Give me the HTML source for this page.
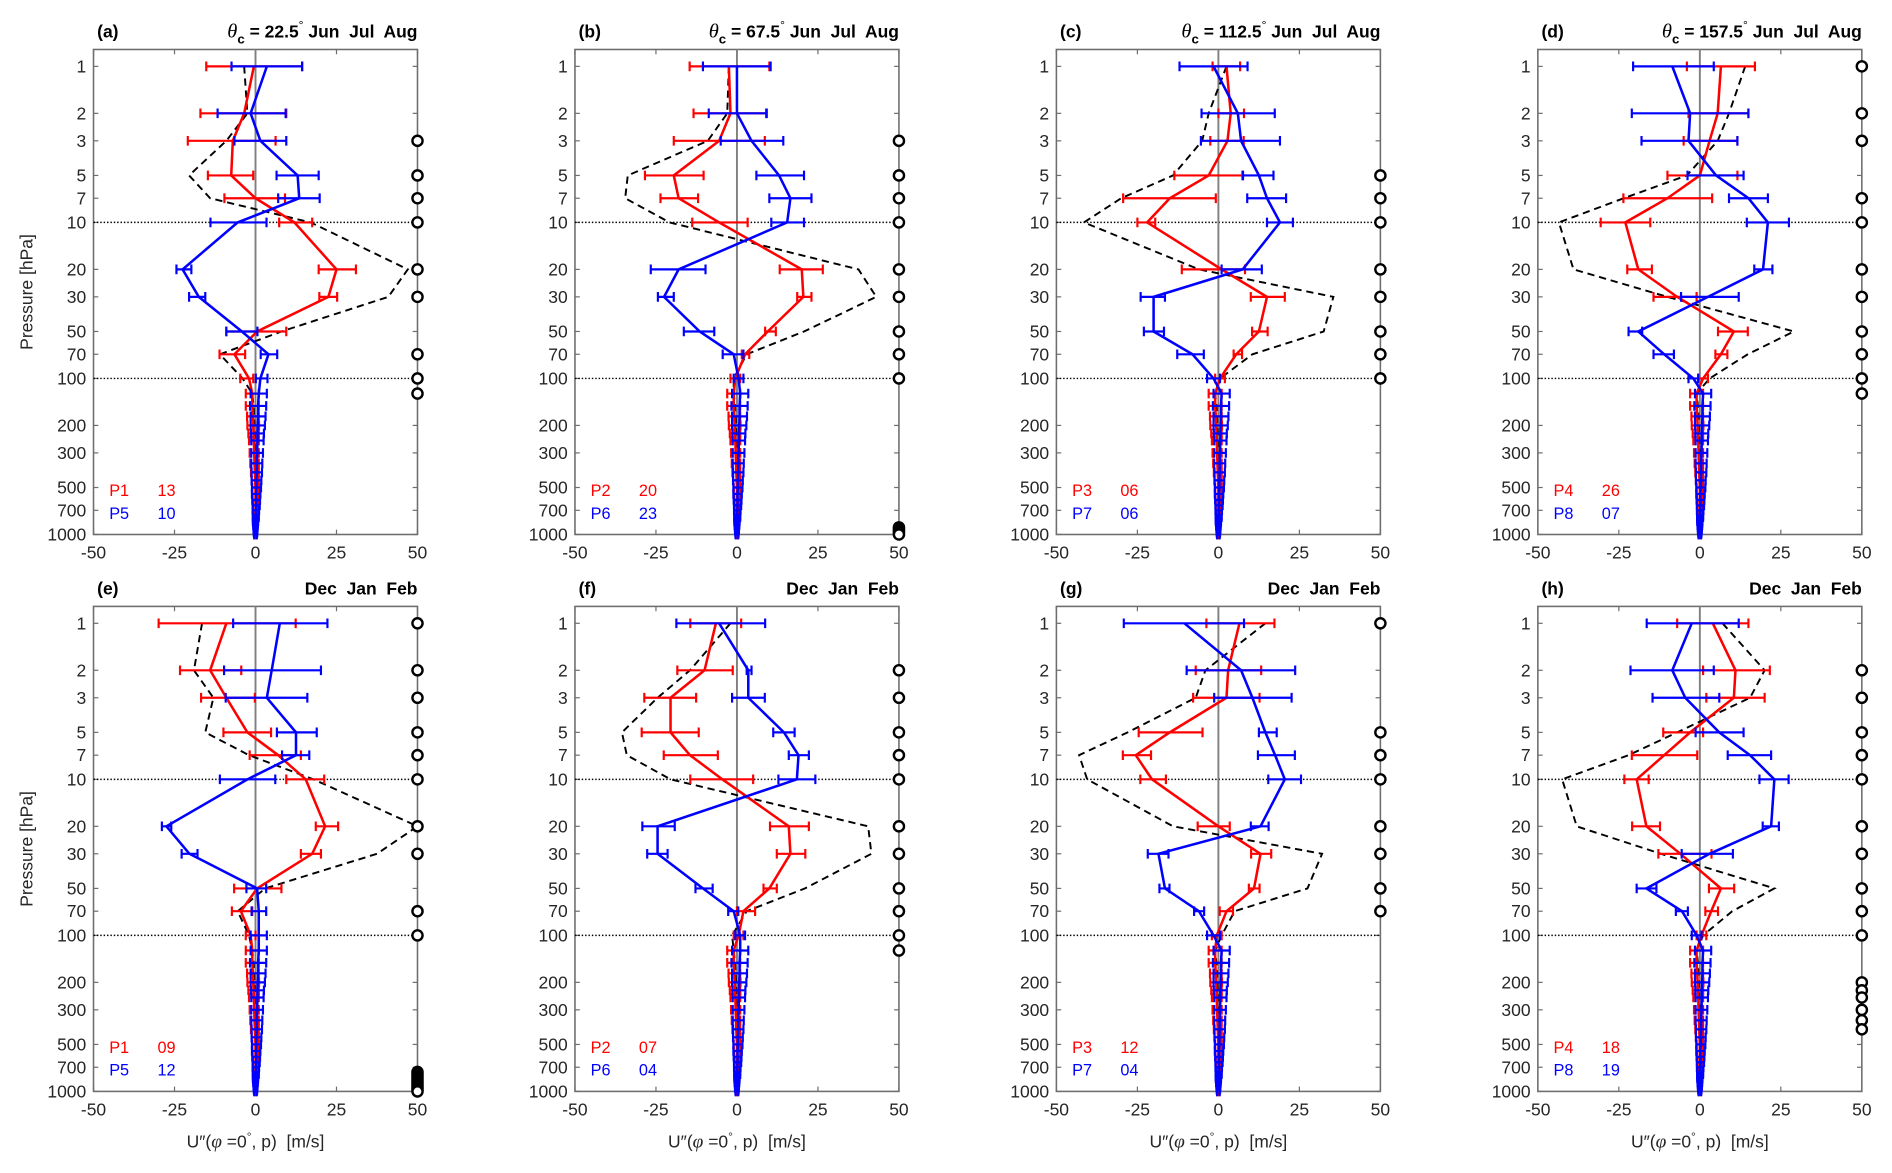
<!DOCTYPE html>
<html><head><meta charset="utf-8">
<style>
html,body{margin:0;padding:0;background:#fff;}
svg{display:block;}
text{font-family:"Liberation Sans",sans-serif;}
</style></head>
<body>
<svg id="fig" width="1892" height="1173" viewBox="0 0 1568 972" preserveAspectRatio="none" xmlns="http://www.w3.org/2000/svg"></svg>
<script>
// pressure levels
const upperLevels = [1,2,3,5,7,10,20,30,50,70,100];
const lowerLevels = [125,150,175,200,225,250,300,350,400,450,500,550,600,650,700,750,775,800,825,850,875,900,925,950,975,1000];
const yTickLabels = [1,2,3,5,7,10,20,30,50,70,100,200,300,500,700,1000];
const xTickLabels = [-50,-25,0,25,50];
// lower-level values (shared)
const lowRedMean = [-1,-1,-0.8,-0.7,-0.6,-0.5,-0.4,-0.3,-0.2,-0.1,0,0,0,0,0,0,0,0,0,0,0,0,0,0,0,0];
const lowRedErr = [2,2,1.8,1.8,1.6,1.5,1.4,1.3,1.2,1.1,1,1,0.9,0.8,0.8,0.7,0.7,0.6,0.6,0.5,0.5,0.5,0.4,0.4,0.4,0.3];
const lowBlueMean = [1,0.8,0.8,0.7,0.6,0.6,0.5,0.4,0.4,0.3,0.3,0.2,0.2,0.2,0.1,0.1,0.1,0,0,0,0,0,0,0,0,0];
const lowBlueErr = [2.5,2.5,2.3,2.2,2,1.9,1.8,1.7,1.6,1.5,1.4,1.3,1.2,1.1,1,0.9,0.9,0.8,0.8,0.7,0.7,0.6,0.6,0.5,0.5,0.4];
const lowDash = [-1,-0.6,-0.4,-0.3,-0.2,-0.2,-0.1,-0.1,0,0,0,0,0,0,0,0,0,0,0,0,0,0,0,0,0,0];

// panel (a)
const aRedM=[-0.5,-3.5,-7,-7.5,0,12,25,22.5,0.5,-6.5,-2];
const aRedLo=[-15.2,-17,-20.9,-14.7,-9.6,7.3,19.5,19.7,-9,-11.1,-4.7];
const aRedHi=[14.4,9.5,6.2,-0.7,9.1,17.5,31,25.2,9.5,-3.2,-0.7];
const aBlueM=[3.5,-1.5,1.5,13,13.5,-5.5,-22.5,-17.5,-4.2,4,1.5];
const aBlueLo=[-7.4,-11.7,-6.5,6.5,7,-13.9,-24.4,-20.5,-9,1.6,0.1];
const aBlueHi=[14.4,9.3,9.5,19.5,19.8,3.4,-19.8,-15.5,0.6,6.7,3.7];
const aDash=[-3.5,-2.5,-9,-20.5,-14,17,47,41,8,-11,-4];
const aCircles=[3,5,7,10,20,30,70,100,125];
// panel (b)
const bRedM=[-2.5,-2,-5.5,-19.5,-18,-5.5,20,20.5,9.5,2.5,-0.5];
const bRedLo=[-14.6,-13.4,-19.5,-28.4,-23.6,-13.8,13.2,18.6,8.7,1.5,-2];
const bRedHi=[10,9,8.6,-10.3,-12,3.3,26.5,23,12,3.8,1];
const bBlueM=[0,0,4.5,13,16.5,15.5,-18,-22.5,-11.5,-1,0.5];
const bBlueLo=[-10.5,-8.7,-5,6,10,10.6,-26.6,-24.4,-16.4,-4.4,-1];
const bBlueHi=[10.4,9.2,14.3,20.7,23,20.7,-9.7,-19.5,-7,2,2];
const bDash=[-2.5,-3,-9,-33.7,-34.5,-20.8,37.5,43,20.7,3,-1];
const bCircles=[3,5,7,10,20,30,50,70,100,900,925,950,975,1000];
// panel (c)
const cRedM=[2.5,3.8,2.8,-3,-15,-22,1,15,12.5,5.5,0.5];
const cRedLo=[-1.8,0,-2.5,-13.6,-29.4,-25,-11.3,10,10.4,4.7,-1];
const cRedHi=[6.7,7.9,7.8,7.4,-0.8,-19.5,8.2,20.5,15.2,7.3,2];
const cBlueM=[-1.5,6,7,12.5,15,19,7.5,-20,-20,-8,-1.5];
const cBlueLo=[-12,-5.2,-5.4,7.6,8.9,15,1,-24,-23,-12.7,-3.5];
const cBlueHi=[9,17.4,19,17,20.9,23,13.4,-16.5,-16.8,-4.5,0.5];
const cDash=[2.5,-3,-5,-14,-30,-41.5,-6,35.5,32.5,10.5,0.5];
const cCircles=[5,7,10,20,30,50,70,100];
// panel (d)
const dRedM=[6.5,5.5,3,0,-10,-23,-19,-7,10.5,6.5,1];
const dRedLo=[-4,-3.5,-5,-10,-23.6,-30.6,-22.4,-14.3,5.6,4.8,-0.5];
const dRedHi=[17,15,11.6,11.6,3.8,-15.3,-14.8,-1,14.8,8.5,2.5];
const dBlueM=[-8.5,-3,-3.5,5,15,21,19.5,2.5,-19,-11,-2];
const dBlueLo=[-20.6,-21,-18,-3.8,9,14.5,16.8,-5.8,-22,-14.3,-3.5];
const dBlueHi=[4.3,15,11.6,13.5,21,27.5,22.4,12,-17.8,-8,-0.5];
const dDash=[14,9,5.5,-4,-23.5,-43.5,-39,-10,29,14.8,3];
const dCircles=[1,2,3,7,10,20,30,50,70,100,125];
// panel (e)
const eRedM=[-9,-14,-9,-2.5,7,15.5,21.5,17.5,0.5,-4.5,-1.5];
const eRedLo=[-29.9,-23.3,-16.8,-9.9,-1.8,9.5,18.6,14,-6.6,-7.3,-3];
const eRedHi=[12.4,-4.4,-0.2,4.8,14,21.2,25.5,20.2,8,-1,0];
const eBlueM=[7.5,5,3.5,12.5,12.5,-2.5,-27.5,-20.4,0.5,1,1];
const eBlueLo=[-6.9,-9.7,-9.2,6.6,8.2,-11,-28.9,-22.8,-2.8,-1.2,-1.5];
const eBlueHi=[22.2,20.2,16,18.9,16.6,6.1,-26,-17.9,3.3,3.3,3.5];
const eDash=[-16.5,-19,-13,-15.5,-2,17.9,50,37.5,3,-5.5,-2];
const eCircles=[1,2,3,5,7,10,20,30,70,100,750,775,800,825,850,875,900,925,950,975,1000];
// panel (f)
const fRedM=[-6.5,-10,-20.5,-20.5,-14.5,-4.5,16,16.5,10,2,0.5];
const fRedLo=[-14.4,-18.4,-28.6,-29.4,-22.6,-14.4,10.2,12.3,8.2,0,-1];
const fRedHi=[1.3,-1.3,-12.6,-11.8,-5.9,5,22.2,21.1,12.3,5.6,2];
const fBlueM=[-5.5,3.5,3.5,14.5,19,18.5,-24.5,-24.5,-10.5,-1,1];
const fBlueLo=[-18.7,3,-1.5,11.2,16,12.8,-29.2,-27.7,-12.8,-2.7,-0.5];
const fBlueHi=[8.7,4.5,8.6,17.8,22.2,24.2,-19.2,-21.4,-7.5,0.4,2.5];
const fDash=[-2,-14.5,-24.5,-35.5,-34,-20.5,40.5,41.5,21,3,-1.5];
const fCircles=[2,3,5,7,10,20,30,50,70,100,125];
// panel (g)
const gRedM=[6.5,3,2.5,-15,-25.5,-20.5,0,13,11,2.5,-0.5];
const gRedLo=[-3.7,-7,-7.8,-24.6,-29.5,-24.1,-6.4,10.1,9.4,0.4,-2];
const gRedHi=[17.3,13.2,12.7,-4.9,-20.8,-16.2,3.5,16.3,12.7,4.5,1];
const gBlueM=[-10.5,7,10.5,14.5,17.5,20.5,13,-18.5,-16.5,-6,-1.5];
const gBlueLo=[-29.2,-9.8,-1.3,12.5,12.2,15.4,10,-21.8,-18.2,-7.5,-3.5];
const gBlueHi=[7.9,23.7,22.6,18,23.6,25.5,15.5,-15.4,-15.1,-4.4,0.5];
const gDash=[14.5,-4,-7,-28,-43,-40.5,-14,32,27.5,5,1];
const gCircles=[1,5,7,10,20,30,50,70];
// panel (h)
const hRedM=[4,11,10.5,-3,-11,-19.5,-16.5,-6,6.5,3.5,0.5];
const hRedLo=[-7,1,2,-11.3,-21,-23.3,-20.9,-12.8,2.8,1.7,-1];
const hRedHi=[15,21.6,20,1,-0.8,-15.8,-12.3,3.6,10.6,5.6,2];
const hBlueM=[-2.5,-8.5,-4.5,6,15.5,23,22,3,-16.5,-5.5,-1];
const hBlueLo=[-16.4,-21.4,-14.6,-1.3,8.6,18.4,19.4,-5.6,-19.5,-7.4,-2.5];
const hBlueHi=[12,4.3,6,13.5,22,27.4,24.4,10.2,-13.4,-3.7,0.5];
const hDash=[7,20,15.5,-7,-22,-42.5,-38,-12,23,10,1];
const hCircles=[2,3,5,7,10,20,30,50,70,100,200,225,250,300,350,400];

const panelLetters=['a','b','c','d','e','f','g','h'];
const thetaLabels=['22.5','67.5','112.5','157.5'];
const legendRed=[['P1','13'],['P2','20'],['P3','06'],['P4','26'],['P1','09'],['P2','07'],['P3','12'],['P4','18']];
const legendBlue=[['P5','10'],['P6','23'],['P7','06'],['P8','07'],['P5','12'],['P6','04'],['P7','04'],['P8','19']];

const panels=[
 [aRedM,aRedLo,aRedHi,aBlueM,aBlueLo,aBlueHi,aDash,aCircles],
 [bRedM,bRedLo,bRedHi,bBlueM,bBlueLo,bBlueHi,bDash,bCircles],
 [cRedM,cRedLo,cRedHi,cBlueM,cBlueLo,cBlueHi,cDash,cCircles],
 [dRedM,dRedLo,dRedHi,dBlueM,dBlueLo,dBlueHi,dDash,dCircles],
 [eRedM,eRedLo,eRedHi,eBlueM,eBlueLo,eBlueHi,eDash,eCircles],
 [fRedM,fRedLo,fRedHi,fBlueM,fBlueLo,fBlueHi,fDash,fCircles],
 [gRedM,gRedLo,gRedHi,gBlueM,gBlueLo,gBlueHi,gDash,gCircles],
 [hRedM,hRedLo,hRedHi,hBlueM,hBlueLo,hBlueHi,hDash,hCircles]
];

const NS='http://www.w3.org/2000/svg';
const svg=document.getElementById('fig');
function mk(tag,attrs,parent){
  const e=document.createElementNS(NS,tag);
  for(const k in attrs) e.setAttribute(k,attrs[k]);
  (parent||svg).appendChild(e);
  return e;
}
const colLeft=[77.5,476.5,875.5,1274.5];
const W=268.5;
const DEC=129.3;
const rowTop=[41,502.5];
const rowP1=[55,516.5];
const RED='#ff0000', BLUE='#0000ff';

panels.forEach((pd,i)=>{
  const col=i%4,row=Math.floor(i/4);
  const L=colLeft[col], R=L+W, T=rowTop[row], p1=rowP1[row], B=p1+3*DEC;
  const x=v=>L+(v+50)/100*W;
  const y=p=>p1+Math.log10(p)*DEC;
  const g=mk('g',{});
  
  
  // box
  const box=mk('rect',{x:L,y:T,width:W,height:B-T,fill:'none',stroke:'#6e6e6e','stroke-width':1.3},g);
  
  
  // x ticks
  xTickLabels.forEach(v=>{
    mk('line',{x1:x(v),x2:x(v),y1:B,y2:B-4,stroke:'#6e6e6e','stroke-width':1},g);
    mk('line',{x1:x(v),x2:x(v),y1:T,y2:T+4,stroke:'#6e6e6e','stroke-width':1},g);
    const t=mk('text',{x:x(v),y:B+20,'text-anchor':'middle','font-size':14.5,fill:'#262626'},g);
    t.textContent=String(v);
    
    
  });
  yTickLabels.forEach(p=>{
    mk('line',{x1:L,x2:L+4,y1:y(p),y2:y(p),stroke:'#6e6e6e','stroke-width':1},g);
    mk('line',{x1:R,x2:R-4,y1:y(p),y2:y(p),stroke:'#6e6e6e','stroke-width':1},g);
    const t=mk('text',{x:L-6,y:y(p)+5,'text-anchor':'end','font-size':14.5,fill:'#262626'},g);
    t.textContent=String(p);
    
    
  });
  // dotted lines 10 & 100
  [10,100].forEach(p=>{
    const l=mk('line',{x1:L,x2:R,y1:y(p),y2:y(p),stroke:'#000','stroke-width':1.2,'stroke-dasharray':'1.2,1.6'},g);
    
    
  });
  // zero line
  const z=mk('line',{x1:x(0),x2:x(0),y1:T,y2:B,stroke:'#808080','stroke-width':1.6},g);
  
  

  const levels=upperLevels.concat(lowerLevels);
  const [rM,rLo,rHi,bM,bLo,bHi,dsh,circ]=pd;
  const redMean=rM.concat(lowRedMean);
  const redLo=rLo.concat(lowRedMean.map((m,k)=>m-lowRedErr[k]));
  const redHi=rHi.concat(lowRedMean.map((m,k)=>m+lowRedErr[k]));
  const blueMean=bM.concat(lowBlueMean);
  const blueLo=bLo.concat(lowBlueMean.map((m,k)=>m-lowBlueErr[k]));
  const blueHi=bHi.concat(lowBlueMean.map((m,k)=>m+lowBlueErr[k]));
  const dash=dsh.concat(lowDash);

  // dashed line
  const dp=mk('polyline',{points:levels.map((p,k)=>x(dash[k])+','+y(p)).join(' '),fill:'none',stroke:'#000','stroke-width':1.6,'stroke-dasharray':'6,4'},g);
  
  

  function series(mean,lo,hi,color,name){
    const sg=mk('g',{},g);
    
    
    levels.forEach((p,k)=>{
      const yy=y(p);
      const eb=mk('path',{d:`M${x(lo[k])},${yy}H${x(hi[k])}M${x(lo[k])},${yy-4}V${yy+4}M${x(hi[k])},${yy-4}V${yy+4}`,stroke:color,'stroke-width':1.8,fill:'none'},sg);
      
      
    });
    const pl=mk('polyline',{points:levels.map((p,k)=>x(mean[k])+','+y(p)).join(' '),fill:'none',stroke:color,'stroke-width':2.1},sg);
    
    
  }
  series(redMean,redLo,redHi,RED,'red');
  series(blueMean,blueLo,blueHi,BLUE,'blue');

  circ.forEach(p=>{
    const c=mk('circle',{cx:x(50),cy:y(p),r:4.2,fill:'#fff',stroke:'#000','stroke-width':2},g);
    
    
  });

  // legend
  const lr=mk('text',{x:L+13,y:B-32,'font-size':13.5,fill:RED},g);
  lr.textContent=legendRed[i][0];
  
  
  const lr2=mk('text',{x:L+53,y:B-32,'font-size':13.5,fill:RED},g);
  lr2.textContent=legendRed[i][1];
  
  
  const lb=mk('text',{x:L+13,y:B-13,'font-size':13.5,fill:BLUE},g);
  lb.textContent=legendBlue[i][0];
  
  
  const lb2=mk('text',{x:L+53,y:B-13,'font-size':13.5,fill:BLUE},g);
  lb2.textContent=legendBlue[i][1];
  
  

  // titles
  const pt=mk('text',{x:L+3,y:T-10,'font-size':14.5,'font-weight':'bold',fill:'#000'},g);
  pt.textContent='('+panelLetters[i]+')';
  
  
  const tt=mk('text',{x:R,y:T-10,'text-anchor':'end','font-size':14.5,'font-weight':'bold',fill:'#000'},g);
  
  
  if(row===0){
    tt.innerHTML='<tspan font-family="Liberation Serif,serif" font-style="italic" font-weight="normal" font-size="17">θ</tspan><tspan dy="5" font-size="11">c</tspan><tspan dy="-5"> = '+thetaLabels[col]+'</tspan><tspan dy="-7" font-size="10" font-weight="normal">°</tspan><tspan dy="7"> Jun  Jul  Aug</tspan>';
  } else {
    tt.textContent='Dec  Jan  Feb';
  }
  tt.setAttribute('xml:space','preserve');
  tt.style.whiteSpace='pre';

  if(col===0){
    const yl=mk('text',{x:0,y:0,'text-anchor':'middle','font-size':14.5,fill:'#262626',transform:`translate(27,${(T+B)/2}) rotate(-90)`},g);
    yl.textContent='Pressure [hPa]';
    
    
  }
  if(row===1){
    const xl=mk('text',{x:(L+R)/2,y:951,'text-anchor':'middle','font-size':14.5,fill:'#262626'},g);
    xl.innerHTML='U″(<tspan font-family="Liberation Serif,serif" font-style="italic" font-size="16">φ</tspan> =0<tspan dy="-6" font-size="10">°</tspan><tspan dy="6">, p)  [m/s]</tspan>';
    xl.style.whiteSpace='pre';
    
    
  }
});
</script>
</body></html>
